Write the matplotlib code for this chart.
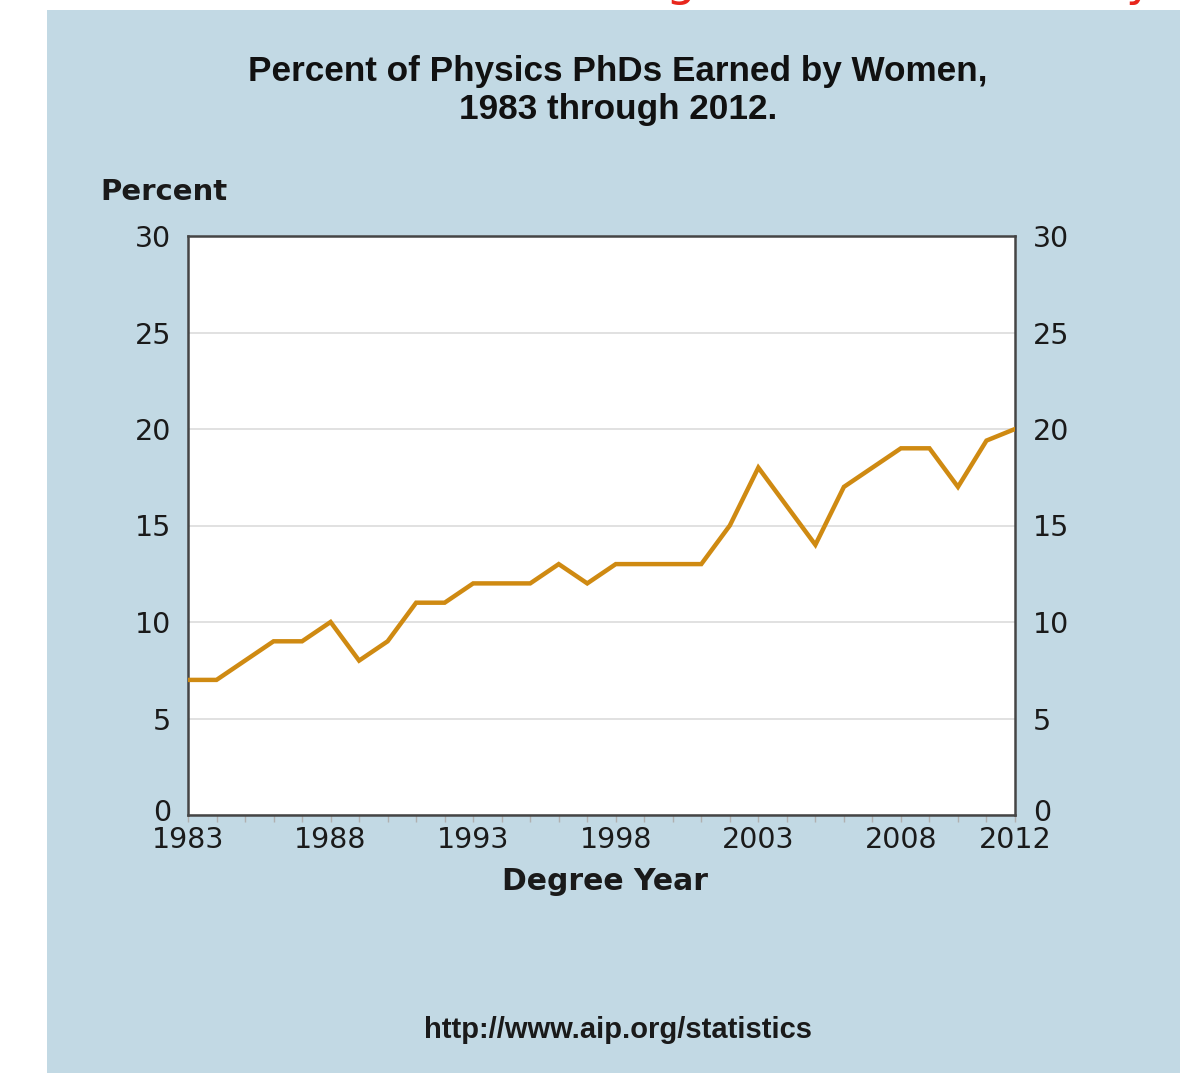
import matplotlib
matplotlib.use("Agg")
import matplotlib.pyplot as plt
from matplotlib.patches import Rectangle
from matplotlib.ticker import MultipleLocator, FixedLocator
from matplotlib.transforms import ScaledTranslation

years = list(range(1983, 2013))
percent = [7, 7, 8, 9, 9, 10, 8, 9, 11, 11,
           12, 12, 12, 13, 12, 13, 13, 13, 13, 15,
           18, 16, 14, 17, 18, 19, 19, 17, 19.4, 20]
xtick_years = [1983, 1988, 1993, 1998, 2003, 2008, 2012]
ytick_vals = [0, 5, 10, 15, 20, 25, 30]

W, H = 1180, 1073
fig = plt.figure(figsize=(W / 100, H / 100), dpi=100, facecolor="white")

panel_color = "#c2d9e4"
fig.add_artist(Rectangle((47 / W, 0), 1 - 47 / W, 1 - 10 / H,
                         transform=fig.transFigure, facecolor=panel_color,
                         edgecolor="none", zorder=0))

# cut-off red heading above the panel (only descenders visible, as in reference)
fig.text(680 / W, 1 + 5 / H, "g", color="#e8261c", fontsize=34,
         family="DejaVu Sans", ha="center", va="baseline")
fig.text(1140 / W, 1 + 5 / H, "y", color="#e8261c", fontsize=34,
         family="DejaVu Sans", ha="center", va="baseline")

ax = fig.add_axes([188 / W, 1 - 815 / H, (1015 - 188) / W, (815 - 236) / H])
ax.set_facecolor("white")
ax.plot(years, percent, color="#cf8a12", lw=3.2, solid_joinstyle="miter", zorder=3)

ax.set_xlim(1983, 2012)
ax.set_ylim(0, 30)
ax.xaxis.set_major_locator(FixedLocator(xtick_years))
ax.xaxis.set_minor_locator(MultipleLocator(1))
ax.set_yticks(ytick_vals)
ax.yaxis.grid(True, color="#dcdcdc", lw=1.2)
ax.set_axisbelow(True)

for s in ax.spines.values():
    s.set_color("#454545")
    s.set_linewidth(1.8)

ax.tick_params(axis="x", which="both", direction="out", length=5, width=1,
               color="#b0b0b0", pad=3, labelsize=20.5)
ax.tick_params(axis="y", which="both", length=0, pad=12, labelsize=20.5,
               right=False, labelright=False)
for lab in ax.get_xticklabels() + ax.get_yticklabels():
    lab.set_family("DejaVu Sans")
    lab.set_color("#1a1a1a")

ax2 = ax.twinx()
ax2.set_ylim(0, 30)
ax2.set_yticks(ytick_vals)
ax2.tick_params(axis="y", length=0, pad=13, labelsize=20.5)
for lab in ax2.get_yticklabels():
    lab.set_family("DejaVu Sans")
    lab.set_color("#1a1a1a")
for s in ax2.spines.values():
    s.set_visible(False)

# lift the "0" labels slightly so they sit just above the year labels
shift = ScaledTranslation(0, 5 / 100, fig.dpi_scale_trans)
for a in (ax, ax2):
    for t in a.yaxis.get_major_ticks()[:1]:
        t.label1.set_transform(t.label1.get_transform() + shift)
        t.label2.set_transform(t.label2.get_transform() + shift)

# labels
fig.text(618 / W, 1 - 72 / H, "Percent of Physics PhDs Earned by Women,",
         ha="center", va="center", fontsize=25.3, fontweight="bold",
         family="Liberation Sans", color="#111111")
fig.text(618 / W, 1 - 110 / H, "1983 through 2012.",
         ha="center", va="center", fontsize=25.3, fontweight="bold",
         family="Liberation Sans", color="#111111")
fig.text(100 / W, 1 - 192 / H, "Percent", ha="left", va="center",
         fontsize=21, fontweight="bold", family="DejaVu Sans", color="#1a1a1a")
fig.text(605 / W, 1 - 881 / H, "Degree Year", ha="center", va="center",
         fontsize=21.5, fontweight="bold", family="DejaVu Sans", color="#1a1a1a")
fig.text(618 / W, 1 - 1030 / H, "http://www.aip.org/statistics", ha="center",
         va="center", fontsize=21, fontweight="bold", family="Liberation Sans",
         color="#1a1a1a")

fig.savefig("out.png", dpi=100, facecolor="white")
